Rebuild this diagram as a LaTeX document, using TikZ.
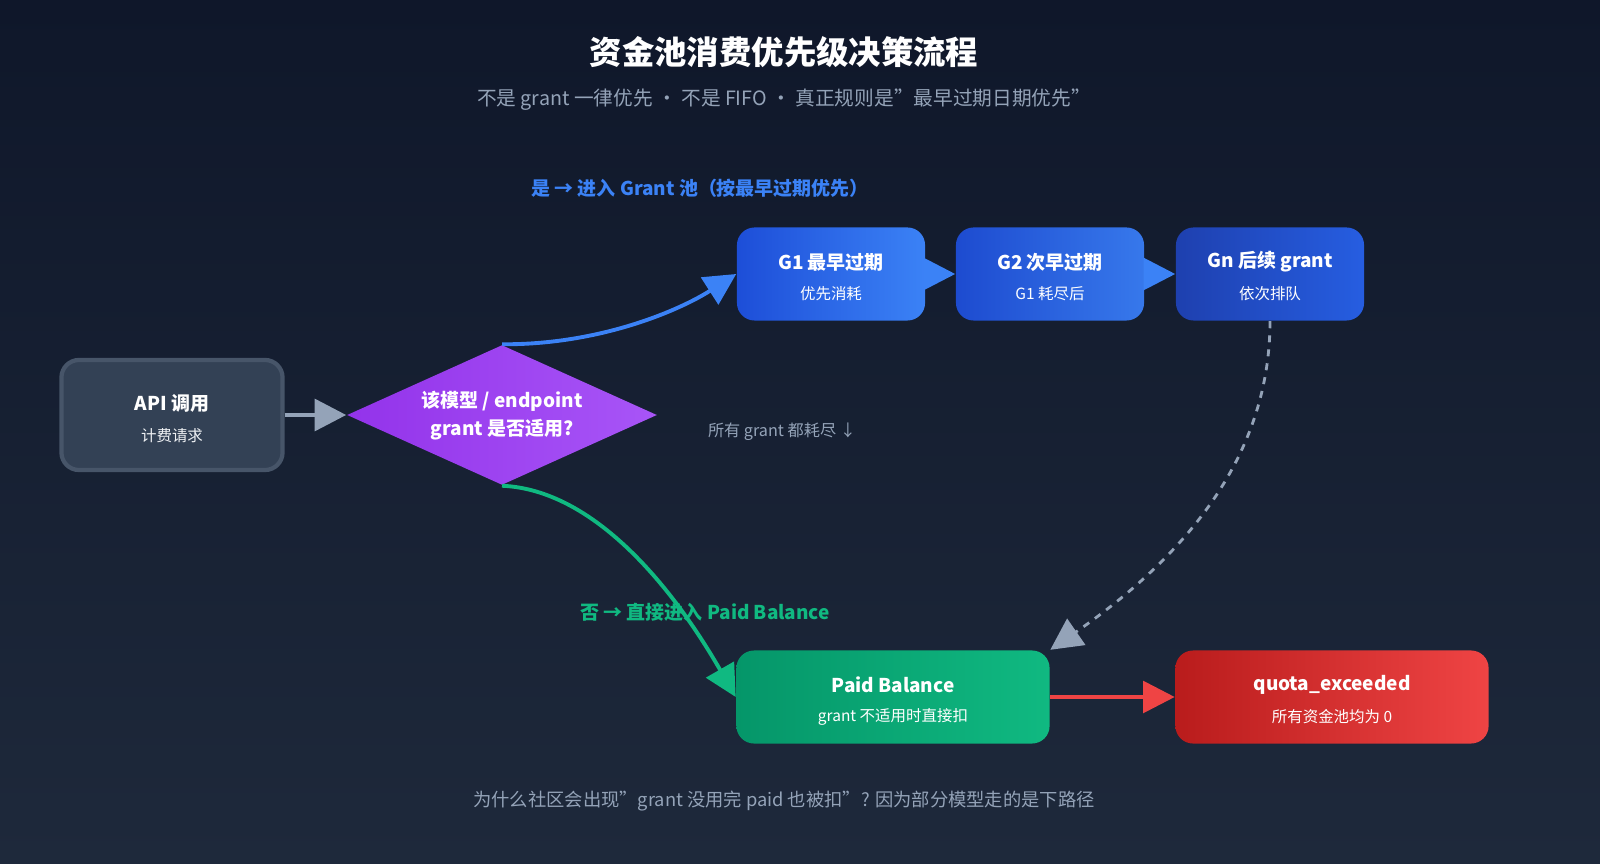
\documentclass[tikz,border=0pt]{standalone}
\usepackage{fontspec}
\setmainfont{Noto Sans CJK SC}
\usetikzlibrary{arrows.meta,shapes.geometric,positioning}

\definecolor{bgtop}{HTML}{0F172A}
\definecolor{bgbot}{HTML}{1E293B}
\definecolor{txtgray}{HTML}{94A3B8}
\definecolor{apifill}{HTML}{334155}
\definecolor{apiline}{HTML}{475569}
\definecolor{blueA}{HTML}{1D4ED8}
\definecolor{blueB}{HTML}{3B82F6}
\definecolor{blueC}{HTML}{1E40AF}
\definecolor{greenA}{HTML}{059669}
\definecolor{greenB}{HTML}{10B981}
\definecolor{redA}{HTML}{B91C1C}
\definecolor{redB}{HTML}{EF4444}
\definecolor{purpA}{HTML}{9333EA}
\definecolor{purpB}{HTML}{A855F7}

\newcommand{\dq}{\symbol{34}}

\tikzset{
  box/.style={rounded corners=5pt, minimum width=1.88cm, minimum height=0.93cm,
    inner sep=0pt, text=white, align=center},
  ttl/.style={font=\fontsize{5.4}{6}\selectfont\bfseries, text=white},
  sub/.style={font=\fontsize{4.4}{5}\selectfont, text=white},
  flow/.style={line width=1.1pt, -{Triangle[length=9pt,width=9pt]}},
}

\begin{document}
\begin{tikzpicture}[x=0.01cm, y=-0.01cm]
  \useasboundingbox (0,0) rectangle (1600,864);
  \shade[top color=bgtop, bottom color=bgbot] (0,0) rectangle (1600,864);

  % headings
  \node (title) at (784,52) {\fontsize{9.2}{10}\selectfont\bfseries\color{white}资金池消费优先级决策流程};
  \node (subtitle) at (784,100) {\fontsize{5.6}{6}\selectfont\color{txtgray}不是 grant 一律优先 · 不是 FIFO · 真正规则是\dq 最早过期日期优先\dq};

  % nodes
  \node[box, minimum width=2.21cm, minimum height=1.1cm, fill=apifill, draw=apiline, line width=1.2pt] (api) at (172,415) {};
  \node[ttl] at (172,403) {API 调用};
  \node[sub, text=white!85!txtgray] at (172,436) {计费请求};

  \node[diamond, aspect=2.2, minimum width=3.1cm, minimum height=1.4cm, inner sep=0pt,
        left color=purpA, right color=purpB] (check) at (502,415) {};
  \node[ttl] at (502,401) {该模型 / endpoint};
  \node[ttl] at (502,430) {grant 是否适用?};

  \node[box, left color=blueA, right color=blueB] (g1) at (831,274) {};
  \node[ttl] at (831,262) {G1 最早过期};
  \node[sub] at (831,294) {优先消耗};

  \node[box, left color=blueA!80!blueC, right color=blueB!85!blueC] (g2) at (1050,274) {};
  \node[ttl] at (1050,262) {G2 次早过期};
  \node[sub] at (1050,294) {G1 耗尽后};

  \node[box, left color=blueC, right color=blueA!70!blueB] (gn) at (1270,274) {};
  \node[ttl] at (1270,262) {Gn 后续 grant};
  \node[sub] at (1270,294) {依次排队};

  \node[box, minimum width=3.13cm, left color=greenA, right color=greenB] (paid) at (893,697) {};
  \node[ttl] at (893,685) {Paid Balance};
  \node[sub] at (893,717) {grant 不适用时直接扣};

  \node[box, minimum width=3.13cm, left color=redA, right color=redB] (quota) at (1332,697) {};
  \node[ttl] at (1332,685) {quota\_exceeded};
  \node[sub] at (1332,717) {所有资金池均为 0};

  % connectors
  \draw[flow, txtgray, line width=1.3pt] (api.east) -- (check.west);
  \draw[flow, blueB] (check.north) .. controls (600,345) and (680,310) .. (g1.west);
  \draw[flow, blueB] (g1.east) -- (g2.west);
  \draw[flow, blueB] (g2.east) -- (gn.west);
  \draw[flow, greenB] (check.south) .. controls (600,490) and (680,600) .. (paid.west);
  \draw[flow, txtgray, line width=0.8pt, dash pattern=on 2pt off 2pt] (gn.south) .. controls (1270,460) and (1180,560) .. (paid.north east);
  \draw[flow, redB] (paid.east) -- (quota.west);

  % labels
  \node[text=blueB, font=\fontsize{5.4}{6}\selectfont\bfseries] (yes) at (700,188) {是 → 进入 Grant 池（按最早过期优先）};
  \node[text=greenB, font=\fontsize{5.4}{6}\selectfont\bfseries] (no) at (705,612) {否 → 直接进入 Paid Balance};
  \node[text=txtgray, font=\fontsize{4.6}{5}\selectfont] (drain) at (782,432) {所有 grant 都耗尽 ↓};
  \node[text=txtgray, font=\fontsize{5.2}{6}\selectfont] (note) at (784,801) {为什么社区会出现\dq grant 没用完 paid 也被扣\dq? 因为部分模型走的是下路径};
\end{tikzpicture}
\end{document}
